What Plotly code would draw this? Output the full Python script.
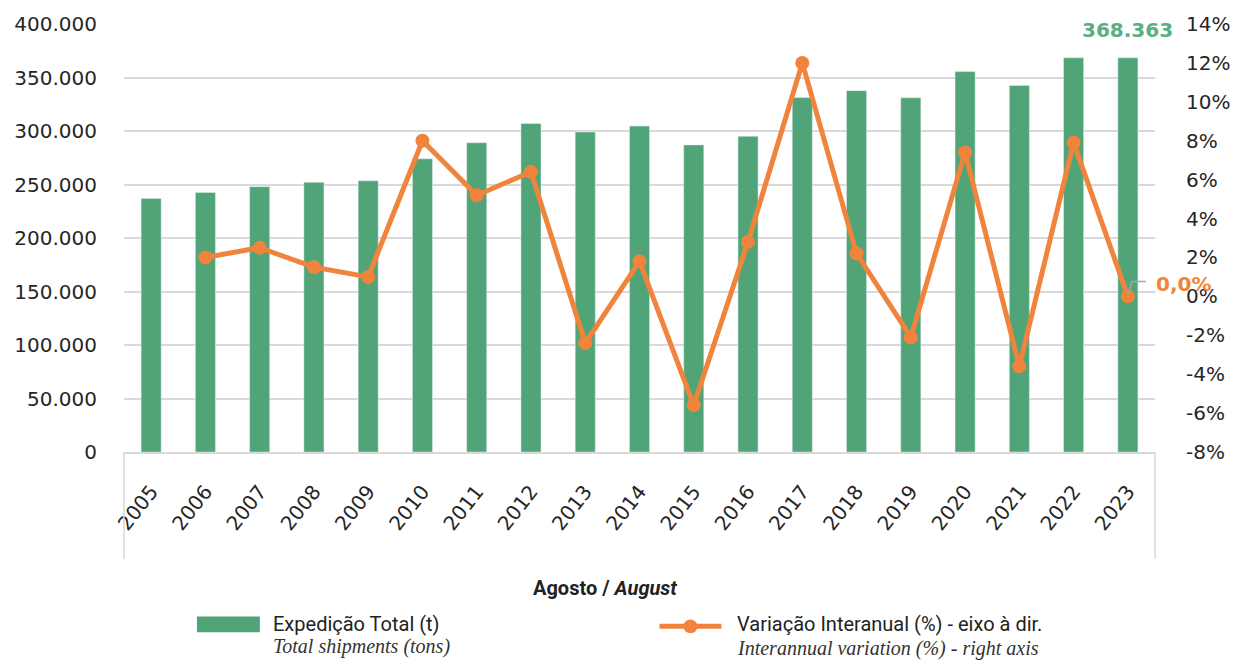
import plotly.graph_objects as go

years = [str(y) for y in range(2005, 2024)]
shipments = [237000, 242600, 248000, 252000, 253500, 274000, 289000, 307000, 299000,
             304600, 287000, 295000, 331200, 337700, 331000, 355500, 342600, 368400, 368363]
variation = [None, 2.0, 2.5, 1.5, 1.0, 8.0, 5.2, 6.4, -2.4, 1.8, -5.6, 2.8, 12.0,
             2.2, -2.1, 7.4, -3.6, 7.9, 0.0]

left_ticks = [0, 50000, 100000, 150000, 200000, 250000, 300000, 350000, 400000]
left_ticktext = ["0", "50.000", "100.000", "150.000", "200.000", "250.000", "300.000", "350.000", "400.000"]
right_ticks = [-8, -6, -4, -2, 0, 2, 4, 6, 8, 10, 12, 14]
right_ticktext = ["-8%", "-6%", "-4%", "-2%", "0%", "2%", "4%", "6%", "8%", "10%", "12%", "14%"]

GREEN = "#50A477"
ORANGE = "#F0843C"
TXT = "#262626"
GRID = "#D9D9D9"

W, H = 1242, 663
L, R, T, B = 124, 1156, 20, 452


def px(x):
    return (x - L) / (R - L)


def py(y):
    return (B - y) / (B - T)


last = len(years) - 1

fig = go.Figure()
fig.add_trace(go.Bar(x=years, y=shipments, marker_color=GREEN, width=0.37,
                     name="Expedição Total (t)", yaxis="y"))
fig.add_trace(go.Scatter(x=years, y=variation, mode="lines+markers", yaxis="y2",
                         line=dict(color=ORANGE, width=5),
                         marker=dict(color=ORANGE, size=14),
                         name="Variação Interanual (%)"))

fig.update_layout(
    width=W, height=H,
    margin=dict(l=L, r=W - R, t=T, b=H - B, pad=0),
    plot_bgcolor="white", paper_bgcolor="white",
    showlegend=False,
    font=dict(family="DejaVu Sans", size=20, color=TXT),
    xaxis=dict(type="category", range=[-0.5, len(years) - 0.5], autorange=False,
               showline=True, linecolor=GRID, linewidth=1.5,
               tickangle=-52, ticks="outside", ticklen=18, tickcolor="rgba(0,0,0,0)",
               tickfont=dict(family="DejaVu Sans", size=20, color=TXT), showgrid=False),
    yaxis=dict(range=[0, 400000], tickvals=left_ticks, ticktext=left_ticktext,
               showgrid=True, gridcolor=GRID, gridwidth=1.5, zeroline=False,
               ticks="outside", ticklen=22, tickcolor="rgba(0,0,0,0)",
               tickfont=dict(family="DejaVu Sans", size=20, color=TXT)),
    yaxis2=dict(range=[-8, 14], tickvals=right_ticks, ticktext=right_ticktext,
                overlaying="y", side="right", showgrid=False, zeroline=False,
                ticks="outside", ticklen=26, tickcolor="rgba(0,0,0,0)",
                tickfont=dict(family="DejaVu Sans", size=20, color=TXT)),
)

shapes = [
    # category-axis frame lines
    dict(type="line", xref="paper", yref="paper", x0=0, x1=0, y0=0, y1=py(560),
         line=dict(color=GRID, width=1.5)),
    dict(type="line", xref="paper", yref="paper", x0=1, x1=1, y0=0, y1=py(560),
         line=dict(color=GRID, width=1.5)),
    # legend: bar swatch
    dict(type="rect", xref="paper", yref="paper", x0=px(197), x1=px(260), y0=py(634), y1=py(618),
         fillcolor=GREEN, line=dict(width=0)),
    # legend: line swatch
    dict(type="line", xref="paper", yref="paper", x0=px(660), x1=px(722), y0=py(628), y1=py(628),
         line=dict(color=ORANGE, width=5)),
    dict(type="circle", xref="paper", yref="paper", x0=px(684), x1=px(698), y0=py(635), y1=py(621),
         fillcolor=ORANGE, line=dict(width=0)),
    # leader line for 0,0% label
    dict(type="path", xref="paper", yref="paper",
         path=f"M {px(1129)} {py(293)} L {px(1133)} {py(280)} L {px(1147)} {py(280)}",
         line=dict(color="#A6A6A6", width=1.5)),
]
fig.update_layout(shapes=shapes)

ann = [
    dict(x=last, y=shipments[-1], xref="x", yref="y", text="<b>368.363</b>",
         showarrow=False, yshift=28, xanchor="center", yanchor="middle",
         font=dict(family="DejaVu Sans", size=20, color="#5AAE80")),
    dict(x=last, y=variation[-1], xref="x", yref="y2", text="<b>0,0%</b>",
         showarrow=False, xshift=26, yshift=12, xanchor="left", yanchor="middle",
         font=dict(family="DejaVu Sans", size=20, color=ORANGE)),
    dict(x=px(605), y=py(589), xref="paper", yref="paper",
         text="<b>Agosto / <i>August</i></b>", showarrow=False,
         xanchor="center", yanchor="middle",
         font=dict(family="Roboto", size=20, color="#222222")),
    dict(x=px(271), y=py(626), xref="paper", yref="paper", text="Expedição Total (t)",
         showarrow=False, xanchor="left", yanchor="middle",
         font=dict(family="Roboto", size=20, color="#222222")),
    dict(x=px(271), y=py(648), xref="paper", yref="paper", text="<i>Total shipments (tons)</i>",
         showarrow=False, xanchor="left", yanchor="middle",
         font=dict(family="Liberation Serif", size=20, color="#333333")),
    dict(x=px(736), y=py(626), xref="paper", yref="paper",
         text="Variação Interanual (%) - eixo à dir.",
         showarrow=False, xanchor="left", yanchor="middle",
         font=dict(family="Roboto", size=20, color="#222222")),
    dict(x=px(736), y=py(650), xref="paper", yref="paper",
         text="<i>Interannual variation (%) - right axis</i>",
         showarrow=False, xanchor="left", yanchor="middle",
         font=dict(family="Liberation Serif", size=20, color="#333333")),
]
fig.update_layout(annotations=ann)

fig.write_html("out.html", config={"displayModeBar": False},
               post_script="document.body.style.margin='0';")
